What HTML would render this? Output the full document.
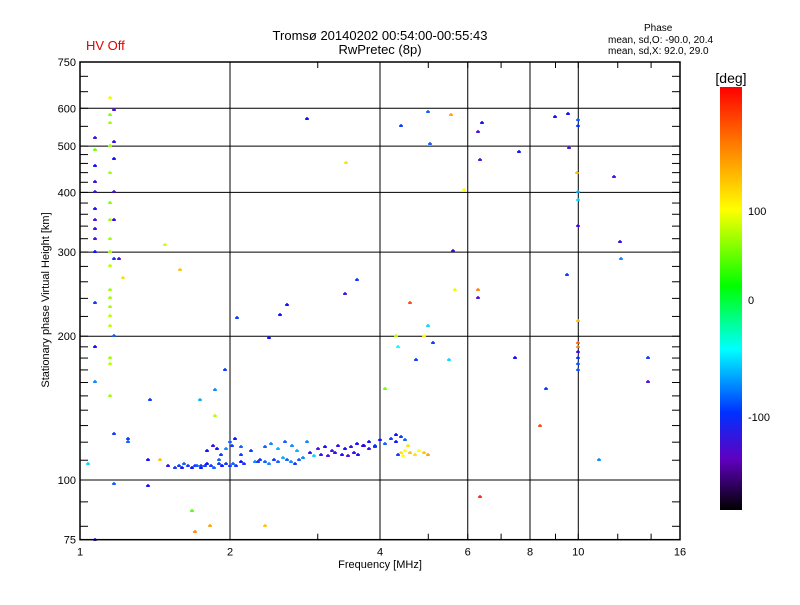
<!DOCTYPE html>
<html><head><meta charset="utf-8"><style>
body{margin:0;background:#fff;}
svg text{font-family:"Liberation Sans",sans-serif;}
</style></head><body>
<svg id="chart" width="800" height="600" xmlns="http://www.w3.org/2000/svg">
<rect width="800" height="600" fill="#fff"/>
<defs><linearGradient id="cb" x1="0" y1="0" x2="0" y2="1">
<stop offset="0" stop-color="#ff0000"/><stop offset="0.14" stop-color="#ff8000"/><stop offset="0.29" stop-color="#ffff00"/>
<stop offset="0.47" stop-color="#00ff00"/><stop offset="0.62" stop-color="#00ffff"/><stop offset="0.77" stop-color="#0030ff"/>
<stop offset="0.88" stop-color="#6000c0"/><stop offset="1" stop-color="#000000"/></linearGradient></defs>
<g id="grid"></g>
<g id="marks"></g>
<g id="axes"></g>
<text x="86" y="50" fill="#e00000" font-size="13">HV Off</text>
<text x="380" y="40" text-anchor="middle" font-size="13">Tromsø 20140202 00:54:00-00:55:43</text>
<text x="380" y="54" text-anchor="middle" font-size="13">RwPretec (8p)</text>
<text x="644" y="31" font-size="10">Phase</text>
<text x="608" y="43" font-size="10">mean, sd,O: -90.0, 20.4</text>
<text x="608" y="54" font-size="10">mean, sd,X:  92.0, 29.0</text>
<text x="380" y="568" text-anchor="middle" font-size="11">Frequency [MHz]</text>
<text transform="translate(49,300) rotate(-90)" text-anchor="middle" font-size="11">Stationary phase Virtual Height [km]</text>
<g>
<rect x="720" y="87" width="22" height="423" fill="url(#cb)"/>
<text x="731" y="83" text-anchor="middle" font-size="14">[deg]</text>
<text x="748" y="215" font-size="11">100</text>
<text x="748" y="304" font-size="11">0</text>
<text x="748" y="421" font-size="11">-100</text>
</g>
</svg>
<script>
const xTickVals=[1,2,4,6,8,10,16];
const xGridVals=[2,4,6,8,10];
const yTickVals=[75,100,200,300,400,500,600,750];
const yGridVals=[100,200,300,400,500,600];
// [freq MHz, height km, phase deg]
const freqs=[1.04,1.07,1.07,1.07,1.07,1.07,1.07,1.07,1.07,1.07,1.07,1.07,1.07,1.07,1.07,
1.15,1.15,1.15,1.15,1.15,1.15,1.15,1.15,1.15,1.15,1.15,1.15,1.15,1.15,1.15,1.15,1.15,1.15,
1.17,1.17,1.17,1.17,1.17,1.17,1.17,1.17,1.17,1.2,1.22,1.25,1.25,1.37,1.37,1.48,1.59,1.68,1.7,1.74,1.82,1.87,1.87,1.9,1.95,2.07,2.1,2.35,2.39,2.52,2.6,2.85,3.4,3.42,3.6,4.1,4.3,4.35,4.4,4.6,4.72,4.9,5.0,5.0,5.03,5.1,5.5,5.55,5.6,5.65,5.9,6.3,6.3,6.3,6.35,6.35,6.4,7.45,7.6,8.37,8.6,8.97,9.5,9.55,9.6,9.93,10.0,10.0,10.0,10.0,10.0,10.0,10.0,10.0,10.0,10.0,10.0,10.0,11.0,11.8,12.1,12.2,13.8,13.8,
1.38,1.45,1.5,1.55,1.58,1.6,1.62,1.65,1.68,1.7,1.72,1.75,1.78,1.8,1.83,1.86,1.9,1.93,1.96,2.0,2.03,2.06,2.1,2.13,
1.75,1.8,1.85,1.88,1.92,1.96,2.0,2.02,2.05,2.1,
2.2,2.25,2.3,2.35,2.4,2.45,2.5,2.55,2.6,2.65,2.7,2.75,2.8,
2.28,2.35,2.42,2.5,2.58,2.66,2.72,
2.85,2.95,3.05,3.15,3.25,3.35,3.45,3.55,3.62,
2.9,3.0,3.1,3.2,3.3,3.4,3.5,3.6,3.7,3.8,3.9,
3.72,3.8,3.9,4.0,4.1,4.2,4.3,4.4,4.5,
4.3,4.35,4.4,4.5,4.6,4.7,4.8,4.9,5.0,4.45,4.55];
const heights=[108,520,490,455,420,400,370,350,335,320,300,235,190,160,75,
630,580,560,500,440,380,350,320,300,280,250,240,230,220,210,180,175,150,
595,510,470,400,350,290,200,125,98,290,265,122,120,110,97,310,275,86,78,147,80,154,136,110,170,218,113,80,198,222,232,570,245,460,262,155,200,190,550,235,178,200,210,590,505,194,178,580,301,250,405,535,250,240,92,468,560,180,485,130,155,575,268,585,495,440,215,194,190,185,180,175,170,568,550,400,385,340,110,430,315,290,180,160,147,
110,107,106,107,106,108,107,106,107,107,106,107,108,107,106,108,107,108,107,108,107,109,108,107,
115,118,116,113,116,120,118,122,117,115,
109,110,109,108,110,109,111,110,109,108,110,111,109,
117,119,116,120,118,115,120,
112,113,112,114,113,112,114,113,114,
116,117,115,118,116,117,119,118,116,117,118,
120,118,121,119,122,120,123,121,124,
113,114,115,114,113,115,114,113,112,118,119];
const phases=[-60,-130,40,-110,-120,-130,-115,-130,-120,-130,-110,-100,-110,-80,-130,
90,50,60,60,60,50,60,60,60,70,60,60,60,70,70,60,70,60,
-130,-120,-110,-130,-120,-100,-90,-100,-90,-130,110,-100,-90,-110,-110,80,120,30,140,-70,130,-80,70,-90,-100,-100,-100,120,-110,-110,-110,-110,-130,110,-100,40,70,-50,-100,160,-100,100,-60,-90,-90,-100,-60,130,-130,90,100,-130,140,-130,170,-130,-110,-110,-110,160,-100,-110,-100,-110,-130,120,120,150,140,-130,-100,-90,-90,-90,-100,-70,-60,-130,-80,-130,-120,-80,-100,-130,-100,120,
-120,-100,-100,-110,-90,-100,-110,-100,-90,-110,-100,-110,-100,-90,-100,-110,-100,-100,-90,-100,-110,-100,-100,-110,
-120,-110,-100,-80,-90,-100,-110,-90,-100,-80,
-100,-90,-80,-100,-90,-70,-90,-80,-100,-90,-80,-100,-90,
-80,-70,-90,-80,-70,-80,-60,
-120,-130,-120,-110,-130,-120,-110,-120,-130,
-110,-130,-120,-110,-120,-110,-130,-120,-100,-120,-110,
-100,-110,-90,-100,-110,-100,-90,-110,-100,
110,100,120,110,100,120,130,100,110,-80,-90];
const NS="http://www.w3.org/2000/svg";
const X0=80,X1=680,Y100=480,Y750=62;
function xScale(f){return X0+(X1-X0)*Math.log2(f)/4;}
function yScale(h){return Y100-(Y100-Y750)*Math.log10(h/100)/Math.log10(7.5);}
function phaseColor(p){
 const st=[[-180,280,10],[-140,265,40],[-110,240,50],[-60,190,50],[0,120,50],[100,60,50],[140,30,50],[180,0,50]];
 p=Math.max(-180,Math.min(180,p));
 for(let i=1;i<st.length;i++){if(p<=st[i][0]){const a=st[i-1],b=st[i],t=(p-a[0])/(b[0]-a[0]);
  return `hsl(${a[1]+(b[1]-a[1])*t},100%,${a[2]+(b[2]-a[2])*t}%)`;}}
 return 'red';
}
function mk(tag,attrs,parent){const e=document.createElementNS(NS,tag);for(const k in attrs)e.setAttribute(k,attrs[k]);parent.appendChild(e);return e;}
const grid=document.getElementById('grid'),axes=document.getElementById('axes'),marks=document.getElementById('marks');
xGridVals.forEach(v=>{const l=mk('line',{x1:xScale(v),x2:xScale(v),y1:Y750,y2:yScale(75),stroke:'#000','stroke-width':1},grid);

});
yGridVals.forEach(v=>{const l=mk('line',{x1:X0,x2:X1,y1:yScale(v),y2:yScale(v),stroke:'#000','stroke-width':1},grid);

});
for(let i=0;i<freqs.length;i++){
 const x=Math.round(xScale(freqs[i])),y=Math.round(yScale(heights[i])),c=phaseColor(phases[i]);
 const p=mk('path',{d:`M${x-2},${y}h4M${x},${y-2}v3`,stroke:c,'stroke-width':1.4},marks);
 
 
}
const fr=mk('rect',{x:X0,y:Y750,width:X1-X0,height:yScale(75)-Y750,fill:'none',stroke:'#000','stroke-width':1.5},axes);


xTickVals.forEach(v=>{const t=mk('text',{x:xScale(v),y:yScale(75)+16,'text-anchor':'middle','font-size':11},axes);t.textContent=v;

});
for(let f=1;f<=16;f+=(f<10?1:2)){const x=xScale(f);
 mk('line',{x1:x,x2:x,y1:yScale(75),y2:yScale(75)-6,stroke:'#000'},axes);
 mk('line',{x1:x,x2:x,y1:Y750,y2:Y750+6,stroke:'#000'},axes);}
yTickVals.forEach(v=>{const t=mk('text',{x:X0-4,y:yScale(v)+4,'text-anchor':'end','font-size':11},axes);t.textContent=v;

});
for(let h=80;h<=750;h+=(h<200?10:(h<500?20:50))){const y=yScale(h);
 mk('line',{x1:X0,x2:X0+8,y1:y,y2:y,stroke:'#000'},axes);
 mk('line',{x1:X1,x2:X1-8,y1:y,y2:y,stroke:'#000'},axes);}
</script>
</body></html>
